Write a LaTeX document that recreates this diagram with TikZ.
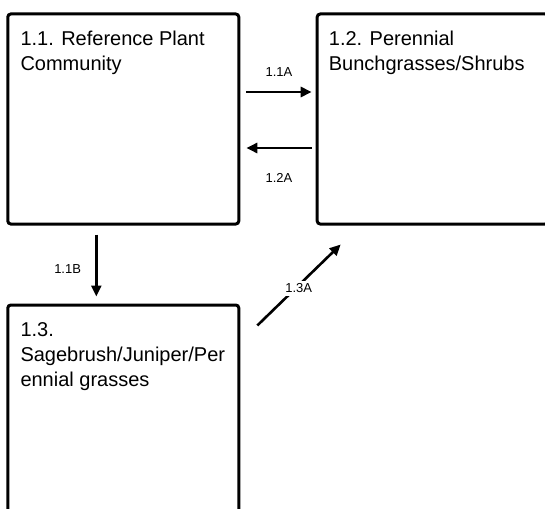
\documentclass[tikz,border=0pt]{standalone}
\usepackage{fontspec}
\setmainfont{Liberation Sans}
\usetikzlibrary{arrows.meta,positioning}
\colorlet{myink}{black}

\begin{document}
\begin{tikzpicture}[
  x=1pt, y=-1pt,
  state/.style ={draw=myink, line width=3pt, rounded corners=3pt,
                 minimum width=231pt, minimum height=210pt, inner sep=0pt},
  title/.style ={font=\fontsize{20}{25}\selectfont, text=myink, align=left,
                 inner sep=0pt, anchor=north west},
  trans/.style ={draw=myink, line width=2.6pt, -{Triangle[length=11pt,width=10pt]}},
  tag/.style   ={font=\fontsize{13}{15}\selectfont, text=myink, inner sep=0pt},
]
\useasboundingbox (0,0) rectangle (545,508);
\clip (0,0) rectangle (545,508);

% ==================================================== the three states
\node[state] (ref)   at (123.3,119) {};
\node[state] (bunch) at (432.7,119) {};
\node[state] (sage)  at (123.3,410) {};

\node[title] (ref-t)   at ([xshift=14pt,yshift=-18.5pt]ref.north west)   {1.1. Reference Plant\\Community};
\node[title] (bunch-t) at ([xshift=13pt,yshift=-18.5pt]bunch.north west) {1.2. Perennial\\Bunchgrasses/Shrubs};
\node[title] (sage-t)  at ([xshift=14pt,yshift=-18.5pt]sage.north west)  {1.3.\\Sagebrush/Juniper/Per\\ennial grasses};

% ==================================================== transitions
\draw[trans] ([xshift=6pt,yshift=27pt]ref.east)
  -- node[tag, above=14pt] (t11a) {1.1A} ([xshift=-4pt,yshift=27pt]bunch.west);
\draw[trans] ([xshift=-4pt,yshift=-29pt]bunch.west)
  -- node[tag, below=24pt] (t12a) {1.2A} ([xshift=6pt,yshift=-29pt]ref.east);
\draw[trans] ([xshift=-27pt,yshift=-9pt]ref.south)
  -- node[tag, pos=0.55, left=14pt] (t11b) {1.1B} ([xshift=-27pt,yshift=7pt]sage.north);
% label sits on the line, white fill breaks it
\draw[trans] ([xshift=17pt,yshift=-22pt]sage.north east)
  -- node[tag, pos=0.46, xshift=3pt, fill=white, inner sep=3pt] (t13a) {1.3A}
     ([xshift=25pt,yshift=-19pt]bunch.south west);

\end{tikzpicture}
\end{document}
